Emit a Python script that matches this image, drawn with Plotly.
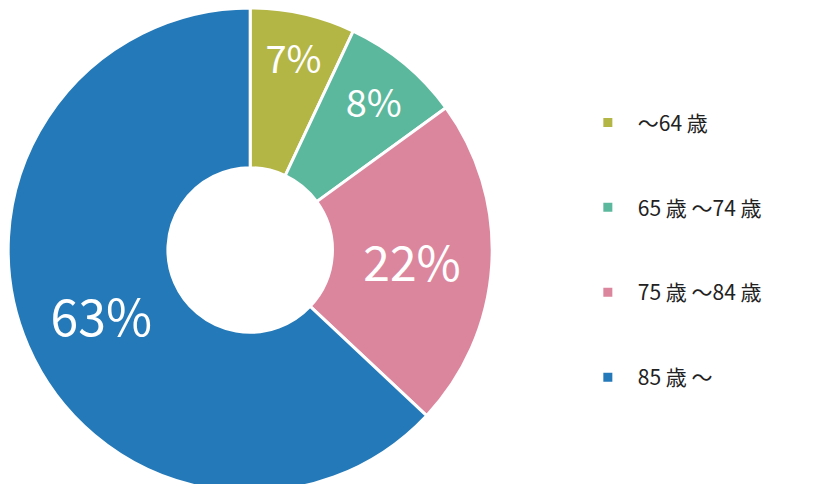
import plotly.graph_objects as go

labels = ["～64 歳", "65 歳 ～74 歳", "75 歳 ～84 歳", "85 歳 ～"]
values = [7, 8, 22, 63]
texts = ["7%", "8%", "22%", "63%"]
colors = ["#b3b545", "#5bb89c", "#dc869e", "#2479b8"]
sizes = [38, 38, 48, 50]

legend_labels = [" <br>" + l + "<br> " for l in labels]

fig = go.Figure(go.Pie(
    labels=legend_labels, values=values, text=texts, textinfo="text",
    hole=0.34, sort=False, direction="clockwise", rotation=0,
    marker=dict(colors=colors, line=dict(color="white", width=3)),
    textfont=dict(color="white", size=sizes, family="Noto Sans CJK JP"),
    insidetextorientation="horizontal",
    domain=dict(x=[0, 0.578], y=[0, 1]),
))
fig.update_layout(
    width=838, height=484, margin=dict(l=0, r=0, t=0, b=0),
    paper_bgcolor="white",
    legend=dict(x=0.68, y=0.5, yanchor="middle", xanchor="left", valign="middle",
                font=dict(size=21, color="#222", family="Noto Sans CJK JP"),
                itemwidth=50),
)
fig.write_html("out.html")
